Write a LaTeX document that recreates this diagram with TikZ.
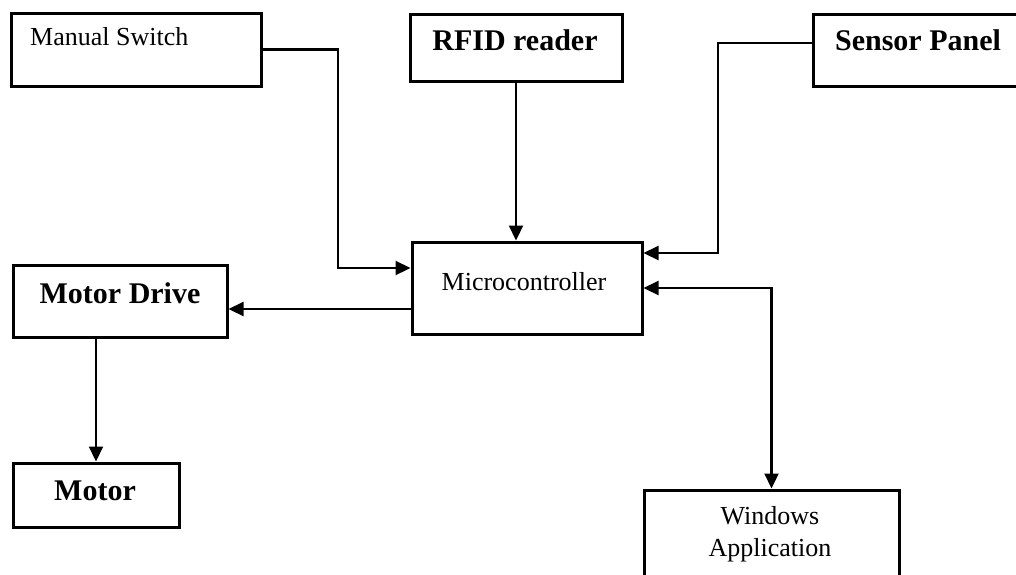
\documentclass[tikz,border=0pt]{standalone}
\usepackage{fontspec}
\setmainfont{Liberation Serif}
\usetikzlibrary{arrows.meta,positioning}

\tikzset{
  blk/.style={draw, line width=3pt, inner sep=0pt},
  lbl/.style={font=\fontsize{26}{32}\selectfont, inner sep=0pt},
  blbl/.style={font=\fontsize{30}{36}\selectfont\bfseries, inner sep=0pt},
  arr/.style={line width=2.2pt, -{Triangle[length=15pt,width=14pt]}},
  arrboth/.style={line width=2.2pt, {Triangle[length=15pt,width=14pt]}-{Triangle[length=15pt,width=14pt]}},
}

\begin{document}
\begin{tikzpicture}[x=1pt,y=-1pt]
  \clip (0,0) rectangle (1016,574);
  % blocks
  \node[blk, minimum width=250pt, minimum height=73pt] (ms) at (136,49.5) {};
  \node[blk, minimum width=212pt, minimum height=67pt] (rfid) at (516,47.5) {};
  \node[blk, minimum width=226pt, minimum height=72pt] (sp) at (926,50) {};
  \node[blk, minimum width=230pt, minimum height=92pt] (mcu) at (527,288) {};
  \node[blk, minimum width=214pt, minimum height=72pt] (md) at (120,301) {};
  \node[blk, minimum width=166pt, minimum height=64pt] (mot) at (96,495) {};
  \node[blk, minimum width=255pt, minimum height=109pt] (win) at (771.5,544.5) {};
  % texts
  \node[lbl, anchor=base west] (mstxt) at (30,45) {Manual Switch};
  \node[blbl, anchor=base] (rfidtxt) at (515,50) {RFID reader};
  \node[blbl, anchor=base] (sptxt) at (918,50) {Sensor Panel};
  \node[lbl, anchor=base] (mcutxt) at (524,290) {Microcontroller};
  \node[blbl, anchor=base] (mdtxt) at (120,303) {Motor Drive};
  \node[blbl, anchor=base] (mottxt) at (95,500) {Motor};
  \node[lbl, align=center] (wintxt) at (770,534) {Windows\\Application};
  % inputs
  \coordinate (msbend) at (338,268);
  \draw[arr] (ms.east) -| (msbend) -- (msbend -| mcu.west);
  \draw[arr] (rfid.south) -- (rfid.south |- mcu.north);
  \coordinate (spbend) at (718,253);
  \draw[arr] ([yshift=7pt]sp.west) -| (spbend) -- (spbend -| mcu.east);
  % outputs
  \coordinate (mdin) at ([yshift=-21pt]mcu.west);
  \draw[arr] (mdin) -- (mdin -| md.east);
  \draw[arr] (md.south -| mot.north) -- (mot.north);
  \draw[arrboth] (mcu.east) -| (win.north);
\end{tikzpicture}
\end{document}
